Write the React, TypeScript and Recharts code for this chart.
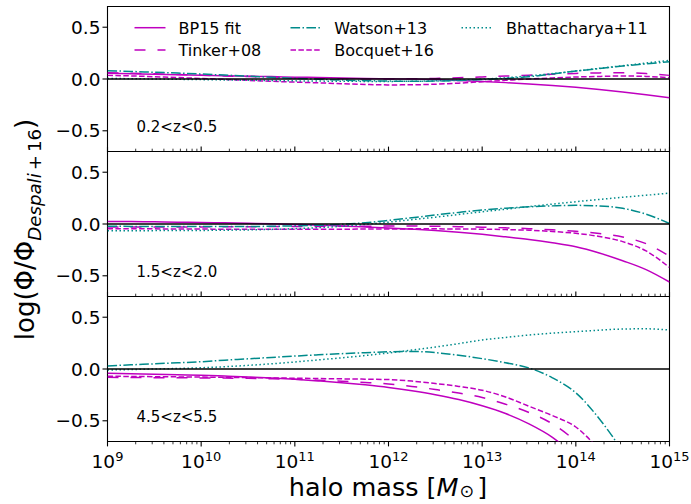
import React from 'react';
import { LineChart, Line, XAxis, YAxis, ReferenceLine, ReferenceArea } from 'recharts';

// log10 of halo mass [M_sun]
const logMass = [9, 9.25, 9.5, 9.75, 10, 10.25, 10.5, 10.75, 11, 11.25, 11.5, 11.75, 12, 12.25, 12.5, 12.75, 13, 13.25, 13.5, 13.75, 14, 14.25, 14.5, 14.75, 15];

// Panel 1: 0.2<z<0.5
const bp15Z1 = [0.055, 0.05, 0.045, 0.041, 0.036, 0.032, 0.027, 0.023, 0.018, 0.014, 0.01, 0.006, 0.002, -0.001, -0.006, -0.014, -0.024, -0.035, -0.048, -0.063, -0.08, -0.101, -0.125, -0.151, -0.18];
const tinkerZ1 = [0.06, 0.055, 0.05, 0.043, 0.037, 0.03, 0.023, 0.016, 0.01, 0.005, 0.002, 0.0, 0.0, 0.002, 0.006, 0.012, 0.02, 0.028, 0.037, 0.046, 0.054, 0.059, 0.06, 0.052, 0.035];
const watsonZ1 = [0.08, 0.073, 0.065, 0.057, 0.048, 0.038, 0.028, 0.017, 0.007, -0.002, -0.01, -0.016, -0.02, -0.022, -0.02, -0.014, -0.006, 0.006, 0.022, 0.048, 0.077, 0.101, 0.125, 0.146, 0.167];
const bocquetZ1 = [0.035, 0.03, 0.022, 0.014, 0.005, -0.004, -0.013, -0.022, -0.03, -0.037, -0.045, -0.052, -0.057, -0.056, -0.05, -0.04, -0.026, -0.013, 0.0, 0.01, 0.019, 0.025, 0.029, 0.025, 0.013];
const bhattZ1 = [0.005, 0.003, 0.0, -0.003, -0.006, -0.009, -0.012, -0.015, -0.018, -0.02, -0.022, -0.023, -0.023, -0.022, -0.018, -0.011, -0.002, 0.012, 0.03, 0.052, 0.077, 0.103, 0.128, 0.154, 0.18];

// Panel 2: 1.5<z<2.0
const bp15Z2 = [0.025, 0.023, 0.021, 0.018, 0.015, 0.011, 0.007, 0.002, -0.004, -0.011, -0.019, -0.028, -0.038, -0.05, -0.063, -0.08, -0.1, -0.124, -0.15, -0.182, -0.22, -0.28, -0.355, -0.44, -0.56];
const tinkerZ2 = [-0.03, -0.03, -0.03, -0.029, -0.028, -0.027, -0.026, -0.025, -0.024, -0.023, -0.022, -0.021, -0.02, -0.02, -0.022, -0.026, -0.031, -0.037, -0.045, -0.056, -0.07, -0.092, -0.125, -0.19, -0.31];
const watsonZ2 = [-0.022, -0.023, -0.024, -0.025, -0.025, -0.025, -0.024, -0.022, -0.018, -0.012, -0.003, 0.012, 0.035, 0.06, 0.087, 0.112, 0.135, 0.152, 0.166, 0.175, 0.18, 0.175, 0.152, 0.095, 0.005];
const bocquetZ2 = [-0.045, -0.046, -0.047, -0.048, -0.049, -0.05, -0.05, -0.05, -0.05, -0.05, -0.05, -0.049, -0.048, -0.047, -0.047, -0.048, -0.05, -0.054, -0.06, -0.072, -0.09, -0.12, -0.17, -0.26, -0.42];
const bhattZ2 = [-0.065, -0.065, -0.064, -0.063, -0.062, -0.06, -0.057, -0.052, -0.045, -0.035, -0.022, -0.004, 0.018, 0.042, 0.066, 0.092, 0.118, 0.143, 0.168, 0.192, 0.215, 0.237, 0.258, 0.278, 0.298];

// Panel 3: 4.5<z<5.5
const bp15Z3 = [-0.04, -0.045, -0.05, -0.055, -0.06, -0.068, -0.077, -0.087, -0.1, -0.115, -0.132, -0.153, -0.178, -0.21, -0.248, -0.295, -0.355, -0.43, -0.53, -0.66, -0.85, -1.1, -1.4, -1.7, -2.0];
const tinkerZ3 = [-0.08, -0.082, -0.084, -0.085, -0.086, -0.088, -0.09, -0.095, -0.1, -0.108, -0.118, -0.13, -0.145, -0.168, -0.198, -0.232, -0.275, -0.34, -0.42, -0.53, -0.7, -0.95, -1.25, -1.6, -2.0];
const watsonZ3 = [0.03, 0.04, 0.05, 0.06, 0.07, 0.085, 0.098, 0.112, 0.125, 0.137, 0.148, 0.158, 0.166, 0.17, 0.158, 0.133, 0.1, 0.06, 0.01, -0.085, -0.23, -0.48, -0.8, -1.2, -1.7];
const bocquetZ3 = [-0.07, -0.072, -0.074, -0.076, -0.078, -0.08, -0.083, -0.086, -0.089, -0.092, -0.095, -0.098, -0.102, -0.117, -0.14, -0.168, -0.205, -0.27, -0.36, -0.45, -0.56, -0.78, -1.05, -1.4, -1.8];
const bhattZ3 = [-0.01, -0.005, 0.0, 0.005, 0.012, 0.022, 0.035, 0.05, 0.068, 0.088, 0.108, 0.13, 0.155, 0.183, 0.212, 0.245, 0.28, 0.305, 0.328, 0.346, 0.36, 0.375, 0.386, 0.388, 0.376];

const seriesKeys = ['bp15', 'tinker', 'watson', 'bocquet', 'bhatt'];
const seriesNames = ['BP15 fit', 'Tinker+08', 'Watson+13', 'Bocquet+16', 'Bhattacharya+11'];
const panelLabels = ['0.2<z<0.5', '1.5<z<2.0', '4.5<z<5.5'];
const panelSeries = [
  [bp15Z1, tinkerZ1, watsonZ1, bocquetZ1, bhattZ1],
  [bp15Z2, tinkerZ2, watsonZ2, bocquetZ2, bhattZ2],
  [bp15Z3, tinkerZ3, watsonZ3, bocquetZ3, bhattZ3],
];

const xMajorTicks = [9, 10, 11, 12, 13, 14, 15];
const xMinorFactors = [2, 3, 4, 5, 6, 7, 8, 9];
const yTicks = [-0.5, 0, 0.5];
const yTickLabels = ['\u22120.5', '0.0', '0.5'];

// styles
const MAGENTA = '#bf00bf';
const TEAL = '#008b8b';
const seriesStyle: Record<string, { color: string; dash?: string }> = {
  bp15: { color: MAGENTA },
  tinker: { color: MAGENTA, dash: '11 12' },
  watson: { color: TEAL, dash: '9.6 2.4 1.5 2.4' },
  bocquet: { color: MAGENTA, dash: '5.5 2.4' },
  bhatt: { color: TEAL, dash: '1.5 2.5' },
};

const W = 691;
const H = 504;
const RIGHT = 669.5;
const PANEL_H = 145;
const PANEL_TOPS = [6.5, 151.5, 296.5];
const XAXIS_H = 20;
const FONT = 'DejaVu Sans, sans-serif';

const allXTicks: number[] = [];
xMajorTicks.forEach((t, i) => {
  allXTicks.push(t);
  if (i < xMajorTicks.length - 1) xMinorFactors.forEach((f) => allXTicks.push(t + Math.log10(f)));
});

const makeXTick = (bottom: boolean) => (props: any) => {
  const { x, y, payload } = props;
  const v = payload.value as number;
  const major = Math.abs(v - Math.round(v)) < 1e-6;
  const len = major ? 4.9 : 2.8;
  const dir = bottom ? 1 : -1;
  return (
    <g>
      <line x1={x} x2={x} y1={y} y2={y + dir * len} stroke="#000" strokeWidth={major ? 1.1 : 0.8} />
      {bottom && major ? (
        <text x={x} y={y + 26.8} textAnchor="middle" fontFamily={FONT} fill="#000">
          <tspan fontSize={18.5}>10</tspan>
          <tspan fontSize={13} dy={-7}>{String(Math.round(v))}</tspan>
        </text>
      ) : null}
    </g>
  );
};

const yLabel = (v: number) => {
  const i = yTicks.indexOf(v);
  return i >= 0 ? yTickLabels[i] : String(v);
};

function Panel({ index }: { index: number }) {
  const top = PANEL_TOPS[index];
  const series = panelSeries[index];
  const rows = logMass.map((m, i) => {
    const r: Record<string, number> = { m };
    seriesKeys.forEach((k, j) => {
      r[k] = series[j][i];
    });
    return r;
  });
  const isBottom = index === 2;
  return (
    <div style={{ position: 'absolute', left: 0, top: 0 }}>
      <LineChart
        width={W}
        height={H}
        data={rows}
        margin={{ top, right: W - RIGHT, bottom: H - top - PANEL_H - XAXIS_H, left: 0.5 }}
      >
        <XAxis
          type="number"
          dataKey="m"
          domain={[9, 15]}
          ticks={allXTicks}
          interval={0}
          allowDataOverflow
          tickLine={false}
          axisLine={false}
          tickSize={0}
          tickMargin={0}
          height={XAXIS_H}
          tick={makeXTick(isBottom)}
        />
        <YAxis
          type="number"
          domain={[-0.7, 0.7]}
          ticks={yTicks}
          allowDataOverflow
          width={107}
          axisLine={false}
          tickSize={5}
          tickMargin={2}
          tickLine={{ stroke: '#000', strokeWidth: 1.1 }}
          tickFormatter={yLabel}
          tick={{ fill: '#000', fontSize: 18.5, fontFamily: FONT }}
        />
        {seriesKeys.map((k) => (
          <Line
            key={k}
            type="monotone"
            dataKey={k}
            stroke={seriesStyle[k].color}
            strokeWidth={1.5}
            strokeDasharray={seriesStyle[k].dash}
            dot={false}
            activeDot={false}
            isAnimationActive={false}
          />
        ))}
        <ReferenceLine y={0} stroke="#000" strokeWidth={1.6} />
        <ReferenceArea x1={9} x2={15} y1={-0.7} y2={0.7} fill="none" fillOpacity={0} stroke="#000" strokeWidth={1.1} />
      </LineChart>
    </div>
  );
}

const legendLayout = [
  { x0: 134.5, x1: 165.5, tx: 178.5, y: 27.7 },
  { x0: 134.5, x1: 165.5, tx: 178.5, y: 50 },
  { x0: 290.5, x1: 320.5, tx: 334.3, y: 27.7 },
  { x0: 290.5, x1: 320.5, tx: 334.3, y: 50 },
  { x0: 461.5, x1: 492.5, tx: 506, y: 27.7 },
];

function Overlay() {
  return (
    <svg width={W} height={H} style={{ position: 'absolute', left: 0, top: 0, pointerEvents: 'none' }}>
      {seriesKeys.map((k, i) => {
        const L = legendLayout[i];
        return (
          <g key={k}>
            <line x1={L.x0} x2={L.x1} y1={L.y} y2={L.y} stroke={seriesStyle[k].color} strokeWidth={1.5} strokeDasharray={seriesStyle[k].dash} />
            <text x={L.tx} y={L.y + 5.8} fontFamily={FONT} fontSize={16} fill="#000">{seriesNames[i]}</text>
          </g>
        );
      })}
      {panelLabels.map((t, i) => (
        <text key={t} x={136.5} y={PANEL_TOPS[i] + 125.2} fontFamily={FONT} fontSize={15} fill="#000">{t}</text>
      ))}
      <text transform="translate(34,229.5) rotate(-90)" textAnchor="middle" fontFamily={FONT} fontSize={26} fill="#000">
        <tspan>log(Φ/Φ</tspan>
        <tspan fontSize={18.2} fontStyle="italic" dy={7}>Despali</tspan>
        <tspan fontSize={18.2} dx={3}>+</tspan>
        <tspan fontSize={18.2} dx={3}>16</tspan>
        <tspan dy={-7}>)</tspan>
      </text>
      <text x={388} y={496} textAnchor="middle" fontFamily={FONT} fontSize={25.5} fill="#000">
        <tspan>halo mass [</tspan>
        <tspan fontStyle="italic">M</tspan>
        <tspan fontSize={17.5} dy={1} dx={1}>⊙</tspan>
        <tspan dy={-1} dx={3}>]</tspan>
      </text>
    </svg>
  );
}

export default function App() {
  return (
    <div style={{ position: 'absolute', left: 0, top: 0, width: W, height: H, background: '#fff' }}>
      <Panel index={0} />
      <Panel index={1} />
      <Panel index={2} />
      <Overlay />
    </div>
  );
}
